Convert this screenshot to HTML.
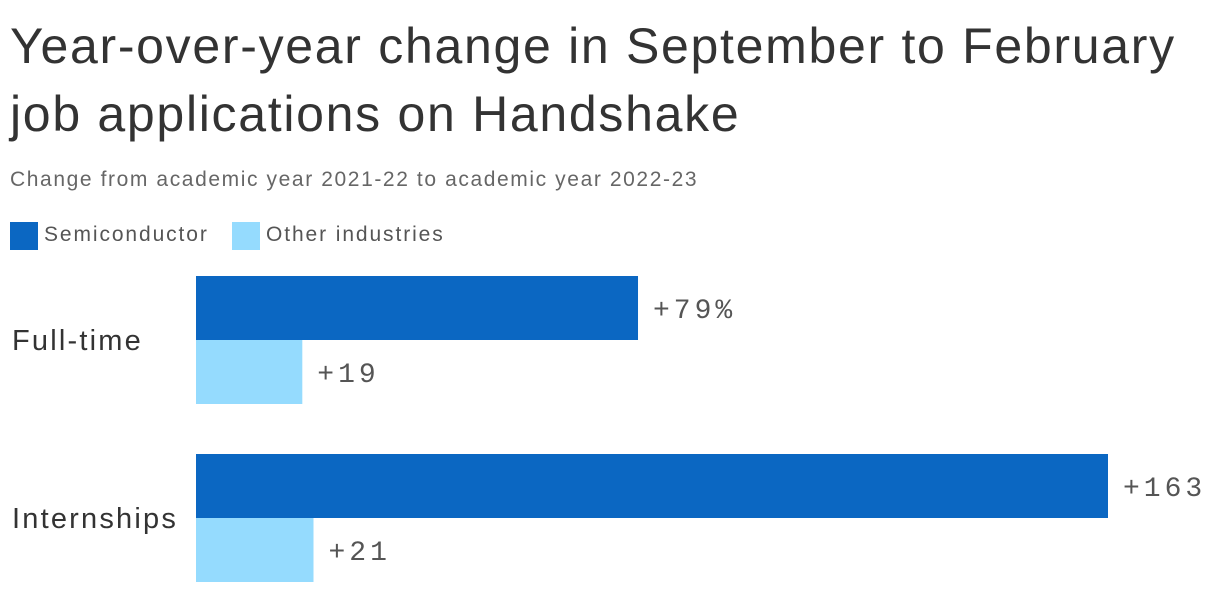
<!DOCTYPE html>
<html><head><meta charset="utf-8">
<style>
body{margin:0;width:1220px;height:594px;background:#fff;font-family:"Liberation Sans",sans-serif;overflow:hidden;position:relative}
.t{position:absolute;left:10px;color:#333;white-space:nowrap}
</style></head><body>
<div class="t" style="top:12px;font-size:50px;line-height:68px;color:#333;letter-spacing:1.7px">Year-over-year change in September to February<br>job applications on Handshake</div>
<div class="t" style="top:168px;font-size:21px;color:#666;letter-spacing:1.6px">Change from academic year 2021-22 to academic year 2022-23</div>
<div>
<div style="position:absolute;left:10px;top:222px;width:28px;height:28px;background:#0b67c2"></div>
<div class="t" style="left:44px;top:223px;font-size:21px;color:#555;letter-spacing:1.9px">Semiconductor</div>
<div style="position:absolute;left:232px;top:222px;width:28px;height:28px;background:#95dbfe"></div>
<div class="t" style="left:266px;top:223px;font-size:21px;color:#555;letter-spacing:1.9px">Other industries</div>
</div>
<svg id="chart" width="1220" height="594" style="position:absolute;left:0;top:0"></svg>
<script>
const categories=["Full-time","Internships"];
const semiValues=[79,163];
const otherValues=[19,21];
const semiLabels=["+79%","+163"];
const otherLabels=["+19","+21"];
const svg=document.getElementById('chart');
const NS='http://www.w3.org/2000/svg';
const x0=196, k=(1108-196)/163;
function xs(v){return x0+v*k;}
function mk(tag,attrs){const e=document.createElementNS(NS,tag);for(const a in attrs)e.setAttribute(a,attrs[a]);svg.appendChild(e);return e;}
categories.forEach((c,i)=>{
  const top=276+i*178;
  const lab=mk('text',{x:12,y:top+74,'font-size':29,fill:'#333','letter-spacing':2.2,'font-family':'Liberation Sans, sans-serif'});
  lab.textContent=c;
  
  
  [[semiValues,semiLabels,'#0b67c2'],[otherValues,otherLabels,'#95dbfe']].forEach((s,j)=>{
    const y=top+j*64;
    const r=mk('rect',{x:x0,y:y,width:xs(s[0][i])-x0,height:64,fill:s[2]});
    
    
    const t=mk('text',{x:xs(s[0][i])+15,y:y+42,'font-size':28,fill:'#555','letter-spacing':4,'font-family':'Liberation Mono, monospace'});
    t.textContent=s[1][i];
    
    
  });
});
</script>
</body></html>
